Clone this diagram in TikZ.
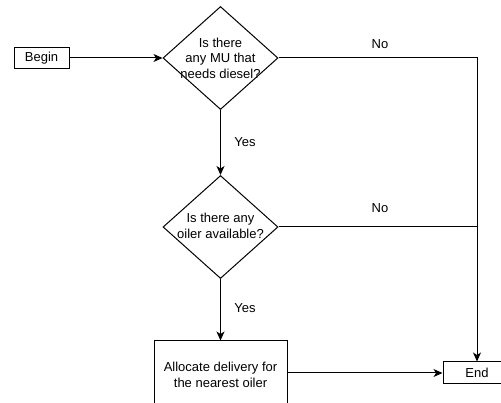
\documentclass[tikz,border=0pt]{standalone}
\usepackage{fontspec}
\setmainfont{Liberation Sans}
\usetikzlibrary{arrows.meta,shapes.geometric}
\tikzset{
  every node/.style={font=\fontsize{13}{15.5}\selectfont},
  boxn/.style={draw, line width=1pt, inner sep=0pt, align=center},
  dia/.style={draw, diamond, line width=1pt, inner sep=0pt, minimum width=115pt, minimum height=103pt},
  txt/.style={align=center, inner sep=0pt},
  lbl/.style={inner sep=0pt},
  conn/.style={line width=1pt},
  arr/.style={conn, -{Stealth[length=9pt,width=8pt,inset=2.5pt]}}
}
\begin{document}
\begin{tikzpicture}[x=1pt,y=-1pt]
\useasboundingbox (0,0) rectangle (501,403);
\clip (0,0) rectangle (501,403);
\node[boxn, minimum width=55pt, minimum height=21pt] (begin) at (41.5,58) {Begin};
\node[dia] (d1) at (220.5,58) {};
\node[txt] (t1) at (220.5,58) {Is there\\any MU that\\needs diesel?};
\node[dia] (d2) at (220.5,227) {};
\node[txt] (t2) at (220.5,226) {Is there any\\oiler available?};
\node[boxn, minimum width=133pt, minimum height=68pt] (alloc) at (220.5,375) {};
\node[txt] (t3) at (220.5,375) {Allocate delivery for\\the nearest oiler};
\node[boxn, minimum width=68pt, minimum height=22pt] (endn) at (477,373) {End};
\coordinate (c1) at (477,58);
\draw[arr] (begin.east) -- (d1.west);
\draw[arr] (d1.south) -- (d2.north);
\draw[arr] (d2.south) -- (alloc.north);
\draw[arr] (alloc.east |- endn.west) -- (endn.west);
\draw[arr] (d1.east) -- (c1) -- (endn.north);
\draw[conn] (d2.east) -- (d2.east -| endn.north);
\node[lbl] (no1) at (380,44) {No};
\node[lbl] (no2) at (380,208) {No};
\node[lbl] (yes1) at (245,142) {Yes};
\node[lbl] (yes2) at (245,308) {Yes};
\end{tikzpicture}
\end{document}
